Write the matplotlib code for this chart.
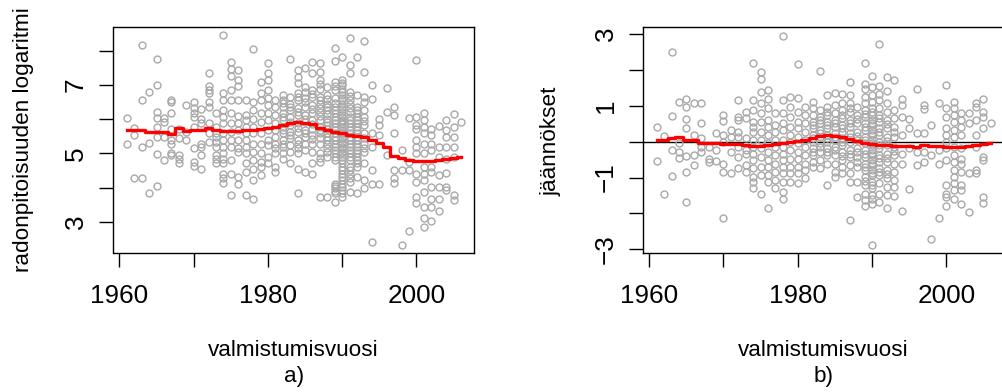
import numpy as np
import matplotlib
matplotlib.use("Agg")
import matplotlib.pyplot as plt

plt.rcParams['font.family'] = ['Liberation Sans', 'DejaVu Sans']

years = list(range(1961, 2007))

# radon log concentration, one row per construction year (1961..2006)
log_radon = [
    [6.05, 5.27],
    [5.76, 5.54, 4.29],
    [8.16, 6.57, 5.20, 4.29],
    [6.80, 5.30, 3.85],
    [7.76, 7.00, 6.20, 6.05, 5.78, 5.47, 4.98, 4.04],
    [6.04, 5.92, 5.47, 4.82],
    [6.56, 6.50, 6.17, 5.73, 5.39, 5.29, 5.00, 4.95],
    [5.73, 5.44, 4.97, 4.85, 4.73],
    [6.42, 5.63, 5.39],
    [6.50, 6.32, 6.17, 6.07, 5.78, 5.15, 4.76, 4.63],
    [6.29, 6.02, 5.88, 5.29, 5.20, 4.95, 4.56],
    [7.36, 6.97, 6.85, 6.78, 6.50, 6.37, 5.88, 5.59, 5.34],
    [6.19, 5.78, 5.59, 5.49, 5.34, 5.20, 4.95, 4.83, 4.73],
    [8.46, 6.76, 6.56, 6.27, 6.07, 5.88, 5.59, 5.39, 5.20, 5.00, 4.85, 4.71, 4.41, 4.27, 4.14],
    [7.68, 7.46, 7.26, 6.85, 6.56, 6.17, 5.88, 5.63, 5.39, 5.20, 4.80, 4.41, 3.78],
    [7.44, 7.15, 6.97, 6.56, 6.09, 5.88, 5.68, 5.39, 5.15, 5.05, 4.32, 4.12],
    [6.56, 6.12, 5.98, 5.78, 5.59, 5.39, 5.20, 5.00, 4.73, 4.46, 3.78],
    [8.07, 6.50, 6.27, 6.02, 5.78, 5.59, 5.29, 5.05, 4.80, 4.56, 4.22, 3.68],
    [7.10, 6.76, 6.56, 6.17, 5.92, 5.59, 5.29, 5.00, 4.76, 4.61, 4.37],
    [7.65, 7.36, 7.15, 6.85, 6.61, 6.41, 6.17, 5.98, 5.68, 5.39, 5.24, 4.90, 4.71],
    [6.56, 6.37, 6.12, 5.88, 5.68, 5.49, 5.29, 5.15, 5.00, 4.61, 4.46],
    [6.71, 6.56, 6.37, 6.17, 5.98, 5.78, 5.59, 5.39, 5.20, 5.00, 4.85, 6.47, 6.07, 5.68, 5.29],
    [7.76, 6.66, 6.46, 6.27, 6.07, 5.83, 5.63, 5.44, 5.24, 5.05, 4.73, 6.37, 5.93, 5.53],
    [7.44, 7.24, 7.05, 6.76, 6.56, 6.32, 6.12, 5.88, 5.63, 5.39, 5.15, 5.00, 4.56, 3.83, 6.66, 6.22, 5.75, 5.27],
    [7.50, 6.95, 6.80, 6.61, 6.37, 6.12, 5.92, 5.68, 5.49, 5.29, 5.10, 4.46, 6.50, 6.02, 5.59],
    [7.68, 7.34, 6.85, 6.66, 6.41, 6.17, 5.98, 5.73, 5.54, 5.29, 5.05, 4.71, 4.41, 6.75, 6.29, 5.85, 5.41],
    [7.65, 7.39, 7.15, 6.90, 6.66, 6.46, 6.22, 5.98, 5.78, 5.59, 5.29, 5.00, 4.76, 3.73, 7.03, 6.56, 6.10,
     5.44, 4.88, 6.34, 5.68],
    [6.95, 6.71, 6.46, 6.27, 6.02, 5.83, 5.59, 5.39, 5.15, 4.90, 3.73, 6.59, 6.15, 5.71, 5.27, 6.37, 5.93,
     5.49, 5.05],
    [8.10, 7.71, 7.10, 6.85, 6.61, 6.37, 6.17, 5.98, 5.78, 5.59, 5.39, 5.20, 5.00, 4.80, 4.12, 3.98, 3.83, 3.59,
     6.97, 6.49, 6.07, 5.68, 5.29, 4.90, 6.27, 5.88, 5.49, 5.10, 4.05, 3.90],
    [7.81, 7.15, 7.05, 6.90, 6.71, 6.56, 6.37, 6.22, 6.07, 5.92, 5.78, 5.63, 5.49, 5.34, 5.20, 5.05, 4.90, 4.71,
     4.51, 4.32, 4.12, 3.93, 3.73, 6.80, 6.46, 6.14, 5.85, 5.56, 5.27, 4.98, 4.61, 4.22, 6.99, 6.63, 6.30,
     5.99, 5.70, 5.42, 5.12, 4.81, 4.41, 4.02, 3.83],
    [8.39, 7.59, 7.34, 6.80, 6.56, 6.32, 6.07, 5.88, 5.68, 5.49, 5.29, 5.10, 4.90, 4.61, 4.41, 4.17, 3.88,
     6.68, 6.20, 5.78, 5.39, 5.00, 4.51, 6.44, 5.97, 5.59, 5.20, 4.80, 4.29],
    [7.83, 6.71, 6.37, 6.17, 5.98, 5.78, 5.59, 5.39, 5.20, 5.00, 4.80, 4.61, 4.32, 3.83, 6.27, 5.88, 5.49, 5.10,
     6.07, 5.68, 5.29, 4.90, 4.71],
    [8.30, 7.39, 6.66, 6.27, 6.07, 5.83, 5.59, 5.29, 5.05, 4.71, 4.22, 3.98, 5.95, 5.44, 6.50, 5.17],
    [7.00, 6.60, 5.59, 5.20, 4.51, 4.12, 2.41],
    [6.02, 5.83, 5.54, 4.12],
    [6.92, 6.22, 4.95],
    [6.35, 6.12, 5.60, 4.51, 4.27, 4.14],
    [5.10, 4.51, 2.32],
    [6.05, 4.76, 4.51, 2.73],
    [7.73, 6.07, 5.83, 5.73, 5.39, 5.20, 5.00, 4.41, 4.17, 3.73, 3.54],
    [6.17, 5.98, 5.78, 5.59, 5.29, 5.00, 4.61, 4.41, 4.22, 3.88, 3.44, 3.10, 2.85],
    [5.73, 5.54, 5.29, 5.10, 4.61, 4.46, 4.02, 3.68, 3.42, 3.02],
    [5.80, 5.20, 4.90, 4.37, 4.02, 3.68, 3.31],
    [5.98, 5.68, 5.49, 5.20, 4.85, 4.43, 4.02, 3.93],
    [6.15, 5.78, 5.49, 5.20, 4.90, 3.78, 3.63],
    [5.92],
]

# model residuals, one row per construction year (1961..2006)
residuals = [
    [0.40, -0.54],
    [0.16, -1.45],
    [2.49, 0.71, -0.24, -0.95],
    [1.11, -0.05, -0.28, -0.45],
    [1.18, 0.97, 0.62, 0.39, -0.39, -0.84, -1.67],
    [1.07, 0.19, -0.36, -0.66],
    [1.09, 0.53, 0.09, -0.14, -0.28],
    [-0.14, -0.47, -0.58],
    [0.25, -0.24, -0.54],
    [0.74, 0.58, 0.19, 0.00, -0.61, -0.84, -2.14],
    [0.32, 0.14, -0.28, -0.88],
    [1.16, 0.69, 0.60, 0.27, 0.14, -0.14, -0.42, -0.74],
    [0.83, 0.65, 0.09, -0.24, -0.33, -0.66, -0.84],
    [2.18, 1.16, 0.88, 0.55, 0.41, 0.27, 0.04, -0.14, -0.33, -0.52, -0.74, -0.98, -1.12, -1.30],
    [1.95, 1.76, 1.39, 1.07, 0.79, 0.55, 0.27, 0.04, -0.19, -0.42, -0.70, -0.93, -1.45],
    [1.44, 1.18, 0.93, 0.60, 0.41, 0.19, -0.05, -0.28, -0.52, -0.70, -0.93, -1.12, -1.84],
    [0.79, 0.46, 0.27, 0.04, -0.14, -0.37, -0.61, -0.84, -1.07, -1.30],
    [2.95, 1.16, 0.79, 0.51, 0.32, 0.04, -0.14, -0.33, -0.52, -0.70, -0.88, -1.12, -1.40, -1.59],
    [1.25, 0.97, 0.69, 0.41, 0.19, 0.00, -0.24, -0.47, -0.70, -0.88, -1.12],
    [2.16, 1.21, 0.83, 0.55, 0.37, 0.14, -0.05, -0.28, -0.47, -0.70, -0.88, -1.16],
    [0.97, 0.74, 0.51, 0.27, 0.04, -0.14, -0.37, -0.61, -0.79, -1.02],
    [1.11, 0.93, 0.74, 0.55, 0.37, 0.19, 0.00, -0.19, -0.37, -0.56, -0.70, 0.46, 0.09, -0.28],
    [1.97, 0.88, 0.69, 0.51, 0.32, 0.14, -0.05, -0.28, -0.52, -0.74, 0.60, 0.23, -0.15],
    [1.30, 0.97, 0.74, 0.55, 0.37, 0.19, 0.00, -0.19, -0.37, -0.61, -1.21, 0.83, 0.46, 0.09, -0.28],
    [1.36, 1.02, 0.79, 0.60, 0.41, 0.23, 0.04, -0.14, -0.37, -0.61, -0.84, -0.98, 0.51, 0.14, -0.24],
    [1.34, 1.07, 0.88, 0.65, 0.46, 0.27, 0.09, -0.10, -0.28, -0.52, -0.70, -0.88, 0.74, 0.37, 0.00, -0.40],
    [1.67, 1.30, 1.07, 0.83, 0.60, 0.41, 0.23, 0.00, -0.24, -0.42, -0.66, -0.88, -1.12, -2.17, 0.95, 0.51,
     0.12, -0.33],
    [0.97, 0.74, 0.51, 0.27, 0.04, -0.19, -0.42, -0.70, -1.12, -1.54, 0.62, 0.16, -0.30, -0.56],
    [2.18, 1.62, 1.48, 1.25, 1.07, 0.88, 0.69, 0.51, 0.32, 0.14, -0.05, -0.24, -0.42, -0.61, -0.79, -0.98,
     -1.21, -1.45, -1.63, -1.80, 0.78, 0.41, 0.04, -0.33, -0.70, -1.10],
    [1.83, 1.51, 1.30, 1.11, 0.93, 0.74, 0.60, 0.46, 0.32, 0.19, 0.04, -0.10, -0.24, -0.37, -0.52, -0.66,
     -0.79, -0.93, -1.12, -1.30, -1.49, -1.73, -2.89, 0.83, 0.53, 0.25, -0.03, -0.31, -0.59, -0.86, -1.21,
     -1.60],
    [2.73, 1.55, 1.34, 1.16, 0.93, 0.74, 0.55, 0.37, 0.19, 0.00, -0.19, -0.37, -0.56, -0.74, -0.93, -1.16,
     -1.45, -1.68, 0.65, 0.28, -0.09, -0.46, -0.84],
    [1.81, 1.42, 1.07, 0.83, 0.60, 0.37, 0.14, -0.10, -0.33, -0.56, -0.79, -1.02, -1.26, -1.49, -1.86, 0.48,
     0.02, -0.45, -0.90],
    [1.72, 0.88, 0.65, 0.41, 0.14, -0.14, -0.37, -0.61, -0.84, -1.07, -1.26, -1.52, 0.28, -0.25],
    [1.19, 1.02, 0.69, 0.19, -0.33, -0.61, -1.94],
    [0.62, 0.37, -0.19, -1.33],
    [1.48, 0.25, -0.28, -0.66],
    [1.02, 0.90, 0.25, -0.28, -0.56],
    [0.46, -0.37, -2.70],
    [1.07, -0.24, -0.61, -2.14],
    [1.58, 0.95, 0.69, 0.37, 0.19, 0.00, -0.19, -0.52, -1.21, -1.45, -1.54, -1.80],
    [1.11, 0.93, 0.74, 0.55, 0.32, 0.14, -0.14, -0.37, -0.56, -0.79, -0.98, -1.16, -1.35, -1.61],
    [0.79, 0.60, 0.41, 0.19, -0.19, -0.47, -0.61, -0.84, -1.21, -1.35, -1.73],
    [0.79, 0.51, -0.88, -1.96],
    [1.07, 0.97, 0.60, 0.19, -0.14, -0.79, -0.86],
    [1.19, 0.83, 0.69, 0.37, -0.42, -0.52, -1.54, -1.70],
    [0.51],
]

# running mean (red line), read per year
trend_a = [5.68, 5.68, 5.68, 5.62, 5.62, 5.63, 5.57, 5.74, 5.66, 5.68,
           5.70, 5.75, 5.70, 5.67, 5.66, 5.67, 5.68, 5.70, 5.73, 5.76,
           5.78, 5.83, 5.90, 5.93, 5.90, 5.85, 5.76, 5.70, 5.64, 5.59,
           5.55, 5.52, 5.48, 5.40, 5.30, 5.20, 4.94, 4.86, 4.80, 4.78,
           4.78, 4.78, 4.81, 4.83, 4.86, 4.90]
trend_b = [0.06, 0.06, 0.10, 0.12, 0.06, 0.04, -0.04, -0.05, -0.05, -0.06,
           -0.07, -0.07, -0.09, -0.12, -0.11, -0.10, -0.07, -0.04, -0.01, 0.02,
           0.06, 0.10, 0.15, 0.19, 0.17, 0.13, 0.07, 0.01, -0.03, -0.06,
           -0.08, -0.10, -0.11, -0.12, -0.13, -0.14, -0.10, -0.11, -0.12, -0.14,
           -0.14, -0.14, -0.12, -0.09, -0.07, -0.05]

W, H = 1003, 392
fig = plt.figure(figsize=(W / 100, H / 100), dpi=100)

grey = '#a9a9a9'
tick_fs = 18.8
lab_fs = 16.2


def px_axes(left, top, right, bottom):
    return fig.add_axes([left / W, 1 - bottom / H, (right - left) / W, (bottom - top) / H])


def style(ax, yticks, ylabels):
    ax.set_xticks([1960, 1970, 1980, 1990, 2000])
    ax.set_xticklabels(['1960', '', '1980', '', '2000'])
    ax.set_yticks(yticks)
    ax.set_yticklabels(ylabels, rotation=90, va='center')
    ax.tick_params(axis='both', direction='out', length=10, width=1, labelsize=tick_fs)
    ax.tick_params(axis='x', pad=12)
    ax.tick_params(axis='y', pad=8.5)
    for s in ax.spines.values():
        s.set_linewidth(1.0)


def panel(ax, vals, trend):
    x = np.repeat(years, [len(v) for v in vals])
    y = np.concatenate(vals)
    ax.plot(x, y, 'o', ms=5.0, mfc='none', mec=grey, mew=1.0, zorder=2)
    ax.plot(years, trend, color='red', lw=2.4, drawstyle='steps-mid', zorder=3)
    ax.set_xlim(1959.2, 2007.75)


ax1 = px_axes(113.5, 27, 474, 253.3)
panel(ax1, log_radon, trend_a)
ax1.set_ylim(2.08, 8.70)
style(ax1, [3, 4, 5, 6, 7, 8], ['3', '', '5', '', '7', ''])

ax2 = px_axes(643.3, 27, 1003.8, 253.3)
ax2.axhline(0, color='black', lw=1.0, zorder=1)
panel(ax2, residuals, trend_b)
ax2.set_ylim(-3.11, 3.195)
style(ax2, [-3, -2, -1, 0, 1, 2, 3],
      ['\u22123', '', '\u22121', '', '1', '', '3'])


def ftext(x, y, s, **kw):
    fig.text(x / W, 1 - y / H, s, fontsize=lab_fs, **kw)


ftext(29, 140, 'radonpitoisuuden logaritmi', rotation=90, rotation_mode='anchor',
      ha='center', va='baseline')
ftext(557, 141, 'jäännökset', rotation=90, rotation_mode='anchor',
      ha='center', va='baseline')
for cx, tag in [(293.7, 'a)'), (823.5, 'b)')]:
    ftext(cx, 356.5, 'valmistumisvuosi', ha='center', va='baseline')
    ftext(cx, 382, tag, ha='center', va='baseline')

fig.savefig('out.png', dpi=100)
